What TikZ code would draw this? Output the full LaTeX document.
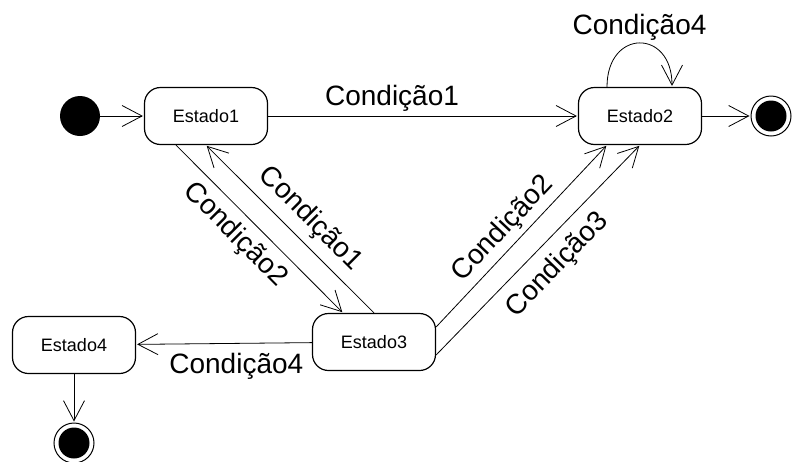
\documentclass[tikz,border=0pt]{standalone}
\usepackage{fontspec}
\setmainfont{Liberation Sans}
\usetikzlibrary{positioning,arrows.meta}

\begin{document}
\begin{tikzpicture}[shorten >=1pt,node distance=3cm,on grid,
   line width=0.8pt,
   >={Straight Barb[length=20pt,width=21pt]},
   estado/.style={draw,line width=1.2pt,rectangle,rounded corners=16pt,fill=white,
      minimum width=123pt,minimum height=57pt,font=\fontsize{18}{21}\selectfont},
   inicio/.style={circle,fill=black,minimum size=40pt,inner sep=0pt},
   fim/.style={circle,draw,line width=1pt,minimum size=40pt,inner sep=0pt,
      path picture={\fill (path picture bounding box.center) circle (15.5pt);}},
   rotulo/.style={font=\fontsize{28}{32}\selectfont,inner sep=4pt}]
   \useasboundingbox (0,0) rectangle (792pt,-461pt);
   \node[inicio] (ini) at (80pt,-116pt) {};
   \node[estado] (e1) [right=126pt of ini] {Estado1};
   \node[estado] (e2) [right=434pt of e1] {Estado2};
   \node[fim] (f1) [right=131pt of e2] {};
   \node[estado] (e3) [below right=226pt and 168pt of e1] {Estado3};
   \node[estado] (e4) [below left=3pt and 300pt of e3] {Estado4};
   \node[fim] (f2) [below=98pt of e4] {};

    \path[->] (ini) edge (e1);
    \path[->] (e1) edge node[above,pos=0.4,rotulo] {Condição1} (e2);
    \path[->] (e2) edge (f1);
    \path[->] ([xshift=-33pt]e2.north) edge[out=90,in=90,looseness=2.3]
       node[above,rotulo,inner sep=2pt] {Condição4} ([xshift=32pt]e2.north);

    \path[->] ([xshift=-30pt]e1.south) edge node[below,sloped,pos=0.445,rotulo,inner sep=8pt] {Condição2} ([xshift=-31pt]e3.north);
    \path[->] (e3.north) edge node[above,sloped,pos=0.47,rotulo,inner sep=8pt] {Condição1} (e1.south);

    \path[->] ([yshift=15pt]e3.east) edge node[above,sloped,pos=0.47,rotulo,inner sep=5pt] {Condição2} ([xshift=-33pt]e2.south);
    \path[->] ([yshift=-13pt]e3.east) edge node[below,sloped,pos=0.51,rotulo,inner sep=11pt] {Condição3} (e2.south);

    \path[->] (e3) edge node[below,pos=0.43,rotulo,inner sep=9pt] {Condição4} (e4);
    \path[->] (e4) edge (f2);
\end{tikzpicture}
\end{document}
